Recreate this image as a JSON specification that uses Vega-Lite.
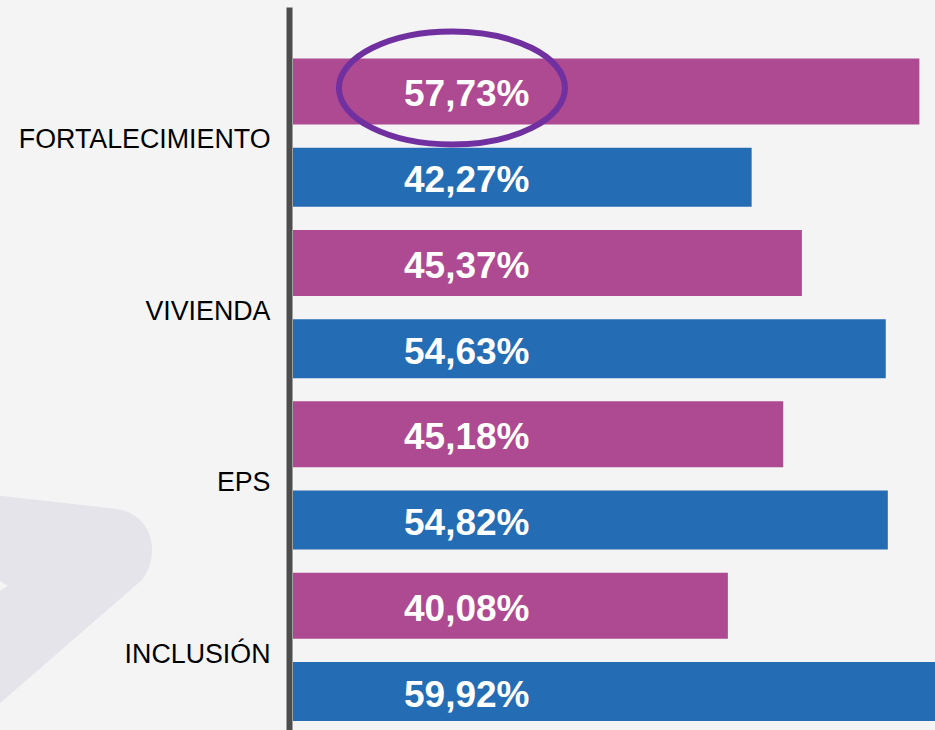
{
  "$schema": "https://vega.github.io/schema/vega-lite/v6.json",
  "autosize": {"type": "none"},
  "width": 642,
  "height": 769,
  "padding": {"left": 293, "top": 7, "right": 0, "bottom": 0},
  "background": "#F4F4F4",
  "config": {"view": {"stroke": null}, "font": "Liberation Sans"},
  "datasets": {
    "barras": [
      {"categoria": "FORTALECIMIENTO", "serie": "A", "valor": 57.73, "etiqueta": "57,73%"},
      {"categoria": "FORTALECIMIENTO", "serie": "B", "valor": 42.27, "etiqueta": "42,27%"},
      {"categoria": "VIVIENDA", "serie": "A", "valor": 46.9, "etiqueta": "45,37%"},
      {"categoria": "VIVIENDA", "serie": "B", "valor": 54.63, "etiqueta": "54,63%"},
      {"categoria": "EPS", "serie": "A", "valor": 45.18, "etiqueta": "45,18%"},
      {"categoria": "EPS", "serie": "B", "valor": 54.82, "etiqueta": "54,82%"},
      {"categoria": "INCLUSIÓN", "serie": "A", "valor": 40.08, "etiqueta": "40,08%"},
      {"categoria": "INCLUSIÓN", "serie": "B", "valor": 59.92, "etiqueta": "59,92%"}
    ],
    "anotacion": [
      {"categoria": "FORTALECIMIENTO", "serie": "A", "posicion": 14.65}
    ],
    "fondo": [
      {"categoria": "INCLUSIÓN", "serie": "A", "posicion": -20.09}
    ]
  },
  "data": {"name": "barras"},
  "encoding": {
    "y": {
      "field": "categoria",
      "type": "nominal",
      "sort": ["FORTALECIMIENTO", "VIVIENDA", "EPS", "INCLUSIÓN"],
      "scale": {"paddingInner": 0, "paddingOuter": 0.242},
      "axis": {
        "title": null,
        "domainColor": "#4D4D4D",
        "domainWidth": 6,
        "ticks": false,
        "tickSize": 0,
        "grid": false,
        "labelPadding": 19,
        "offset": 4,
        "labelFont": "Liberation Sans",
        "labelFontSize": 26.8,
        "labelColor": "#000000",
        "labelOffset": 6,
        "labelLimit": 400
      }
    },
    "yOffset": {
      "field": "serie",
      "type": "nominal",
      "sort": ["A", "B"],
      "scale": {"paddingInner": 0, "paddingOuter": 0}
    }
  },
  "layer": [
    {
      "mark": {"type": "bar"},
      "encoding": {
        "x": {
          "field": "valor",
          "type": "quantitative",
          "scale": {"domain": [0, 59.17], "nice": false, "zero": true},
          "axis": null
        },
        "color": {
          "field": "serie",
          "type": "nominal",
          "scale": {"domain": ["A", "B"], "range": ["#AD4A91", "#246CB4"]},
          "legend": null
        },
        "size": {
          "field": "serie",
          "type": "ordinal",
          "scale": {"domain": ["A", "B"], "range": [66, 59]},
          "legend": null
        }
      }
    },
    {
      "mark": {
        "type": "text",
        "align": "left",
        "baseline": "middle",
        "dx": 111,
        "dy": 4,
        "font": "Liberation Sans",
        "fontSize": 37,
        "fontWeight": "bold",
        "color": "#FFFFFF"
      },
      "encoding": {
        "x": {"datum": 0, "type": "quantitative"},
        "text": {"field": "etiqueta"}
      }
    },
    {
      "data": {"name": "anotacion"},
      "mark": {
        "type": "point",
        "shape": "M -1 -0.03 C -1 -0.306 -0.552 -0.53 0 -0.53 C 0.552 -0.53 1 -0.306 1 -0.03 C 1 0.246 0.552 0.47 0 0.47 C -0.552 0.47 -1 0.246 -1 -0.03 Z",
        "size": 51076,
        "filled": false,
        "stroke": "#7030A0",
        "strokeWidth": 6,
        "opacity": 1
      },
      "encoding": {
        "x": {"field": "posicion", "type": "quantitative"}
      }
    },
    {
      "data": {"name": "fondo"},
      "mark": {
        "type": "point",
        "shape": "M -0.85 -1.11 L -0.75 -1.10 L 0.40 -0.97 C 0.65 -0.94 0.77 -0.75 0.77 -0.57 C 0.77 -0.43 0.73 -0.33 0.66 -0.25 L -0.85 1.06 Z M -0.85 -0.31 L -0.85 -0.09 L -0.67 -0.20 Z",
        "size": 40000,
        "filled": true,
        "color": "#E4E4EA",
        "strokeWidth": 0,
        "opacity": 1
      },
      "encoding": {
        "x": {"field": "posicion", "type": "quantitative"}
      }
    }
  ]
}
